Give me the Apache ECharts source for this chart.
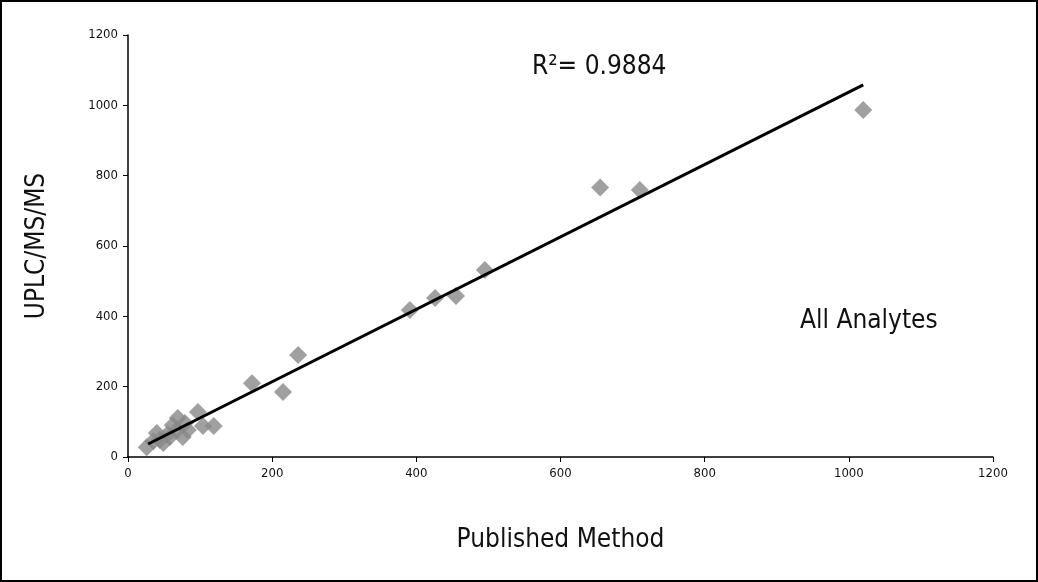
<!DOCTYPE html>
<html><head><meta charset="utf-8">
<script src="https://cdn.jsdelivr.net/npm/echarts@6/dist/echarts.min.js"></script>
<style>html,body{margin:0;padding:0;background:#fff}#c{width:1038px;height:582px;box-sizing:border-box;border:2px solid #000}</style>
</head><body><div id="c"></div>
<script>
var published = [1020,655,710,495,455,426,391,236,215,172,119,97,104,69,79,40,58,26,49,76,68,83,44,62,55,35];
var uplc      = [987,766,759,532,458,452,418,290,185,210,88,128,88,111,97,68,57,28,40,57,77,77,48,90,65,45];
var trendX = [28,1020];
var trendY = [37,1058];
var pts = published.map(function(v,i){return [v,uplc[i]];});
var line = trendX.map(function(v,i){return [v,trendY[i]];});
var ch = echarts.init(document.getElementById('c'));
var F = 'DejaVu Sans Condensed';
var fmt = function(v){return String(v);};
ch.setOption({
  animation:false,
  grid:{left:126,right:43,top:33,bottom:123},
  xAxis:{type:'value',min:0,max:1200,interval:200,name:'Published Method',nameLocation:'middle',nameGap:70,
    nameTextStyle:{fontFamily:F,fontSize:26,color:'#111'},
    axisLine:{lineStyle:{color:'#000',width:1.5}},axisTick:{show:true,length:5,lineStyle:{color:'#000'}},
    axisLabel:{fontFamily:F,fontSize:13,color:'#111',margin:10,formatter:fmt},splitLine:{show:false}},
  yAxis:{type:'value',min:0,max:1200,interval:200,name:'UPLC/MS/MS',nameLocation:'middle',nameGap:78,
    nameTextStyle:{fontFamily:F,fontSize:26,color:'#111'},
    axisLine:{show:true,lineStyle:{color:'#000',width:1.5}},axisTick:{show:true,length:5,lineStyle:{color:'#000'}},
    axisLabel:{fontFamily:F,fontSize:13,color:'#111',margin:10,formatter:fmt},splitLine:{show:false}},
  graphic:[
    {type:'text',left:530,top:52,style:{text:'R²= 0.9884',font:'26px "DejaVu Sans Condensed"',fill:'#111'}},
    {type:'text',left:798,top:306,style:{text:'All Analytes',font:'26px "DejaVu Sans Condensed"',fill:'#111'}}
  ],
  series:[
    {type:'scatter',data:pts,symbol:'diamond',symbolSize:18,itemStyle:{color:'#888888'}},
    {type:'line',data:line,symbol:'none',lineStyle:{color:'#000',width:3}}
  ]
});
</script></body></html>
